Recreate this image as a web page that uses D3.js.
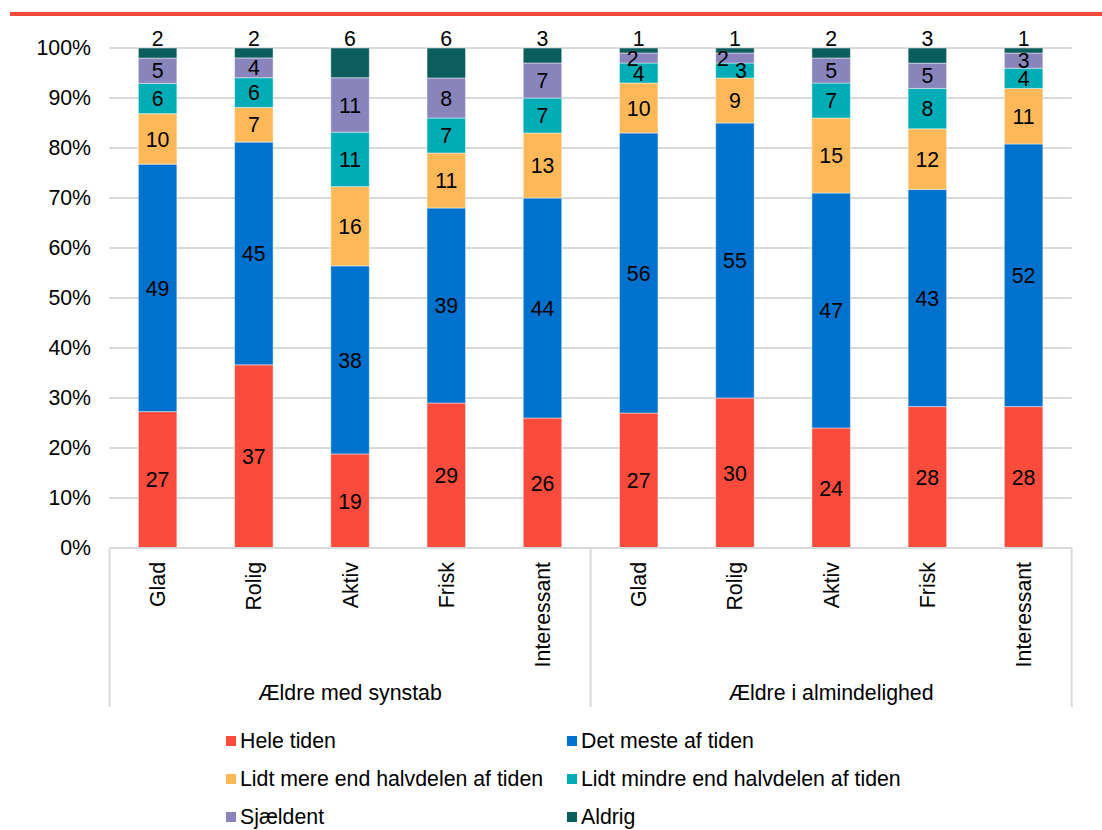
<!DOCTYPE html>
<html>
<head>
<meta charset="utf-8">
<script src="https://cdn.jsdelivr.net/npm/d3@7/dist/d3.min.js"></script>
<style>
  html, body { margin: 0; padding: 0; background: #fff; }
  svg { display: block; font-family: "Liberation Sans", Arial, sans-serif; }
</style>
</head>
<body>
<svg id="chart" width="1102" height="830"></svg>
<script>
// Feelings of older people, % of respondents per answer
const groups = ["Ældre med synstab", "Ældre i almindelighed"];
const categories = ["Glad", "Rolig", "Aktiv", "Frisk", "Interessant"];
const seriesNames = [
  "Hele tiden",
  "Det meste af tiden",
  "Lidt mere end halvdelen af tiden",
  "Lidt mindre end halvdelen af tiden",
  "Sjældent",
  "Aldrig"
];
// one value per bar: group 1 (5 bars) then group 2 (5 bars)
const heleTiden     = [27, 37, 19, 29, 26, 27, 30, 24, 28, 28];
const detMeste      = [49, 45, 38, 39, 44, 56, 55, 47, 43, 52];
const lidtMere      = [10,  7, 16, 11, 13, 10,  9, 15, 12, 11];
const lidtMindre    = [ 6,  6, 11,  7,  7,  4,  3,  7,  8,  4];
const sjaeldent     = [ 5,  4, 11,  8,  7,  2,  2,  5,  5,  3];
const aldrig        = [ 2,  2,  6,  6,  3,  1,  1,  2,  3,  1];
const yTicks = [0, 0.1, 0.2, 0.3, 0.4, 0.5, 0.6, 0.7, 0.8, 0.9, 1.0];

const seriesValues = [heleTiden, detMeste, lidtMere, lidtMindre, sjaeldent, aldrig];
const colors = ["#fa4b3c", "#0072cd", "#feb858", "#00adb6", "#8984bb", "#0c5e5e"];

const svg = d3.select("#chart");
const plotLeft = 109.5, plotRight = 1071.7, plotTop = 48, plotBottom = 548;
const fontSize = 21.3;

// bar keys and rows
const keys = [];
groups.forEach((g, gi) => categories.forEach((c, ci) => keys.push(gi + "|" + c)));
const rows = keys.map((k, i) => {
  const r = { key: k, cat: k.split("|")[1], group: +k.split("|")[0] };
  seriesNames.forEach((s, si) => r[s] = seriesValues[si][i]);
  r.total = d3.sum(seriesNames, s => r[s]);
  return r;
});

// 100% stacked layout
const stack = d3.stack().keys(seriesNames)
  .value((d, key) => d[key] / d.total);
const stacked = stack(rows);

const x = d3.scaleBand().domain(keys).range([plotLeft, plotRight])
  .paddingInner(0.6).paddingOuter(0.3);
const y = d3.scaleLinear().domain([0, 1]).range([plotBottom, plotTop]);

// top accent line
svg.append("rect").attr("x", 10).attr("y", 12).attr("width", 1092).attr("height", 4)
  .attr("fill", "#ef4a3b");

// gridlines
svg.append("g").selectAll("line").data(yTicks.filter(t => t > 0)).join("line")
  .attr("x1", plotLeft).attr("x2", plotRight)
  .attr("y1", d => y(d)).attr("y2", d => y(d))
  .attr("stroke", "#d9d9d9").attr("stroke-width", 2);

// y axis labels
const yAxis = d3.axisLeft(y).tickValues(yTicks).tickFormat(d3.format(".0%")).tickSize(0).tickPadding(0);
const yG = svg.append("g").attr("transform", `translate(91,0)`).call(yAxis);
yG.select(".domain").remove();
yG.selectAll("text").attr("font-size", fontSize).attr("fill", "#000")
  .attr("font-family", "Liberation Sans, Arial, sans-serif");

// bars
const layers = svg.append("g").selectAll("g").data(stacked).join("g")
  .attr("fill", (d, i) => colors[i]);
layers.selectAll("rect").data(d => d).join("rect")
  .attr("x", d => x(d.data.key))
  .attr("width", x.bandwidth())
  .attr("y", d => y(d[1]))
  .attr("height", d => y(d[0]) - y(d[1]))
  .attr("stroke", "#ffffff").attr("stroke-opacity", 0.45).attr("stroke-width", 1);

// value labels; small nudges where neighbouring labels would collide
const nudge = {
  "1|Glad|Sjældent": -6,
  "1|Rolig|Sjældent": -12,
  "1|Rolig|Lidt mindre end halvdelen af tiden": 6
};
const labelG = svg.append("g").attr("font-size", fontSize).attr("fill", "#000")
  .attr("text-anchor", "middle");
stacked.forEach((layer, si) => {
  layer.forEach(d => {
    const name = seriesNames[si];
    const v = d.data[name];
    const cx = x(d.data.key) + x.bandwidth() / 2 + (nudge[d.data.key + "|" + name] || 0);
    const cy = name === "Aldrig" ? y(1) - 10 : y((d[0] + d[1]) / 2);
    labelG.append("text").attr("x", cx).attr("y", cy).attr("dy", "0.36em").text(v);
  });
});

// x axis baseline
svg.append("line").attr("x1", plotLeft).attr("x2", plotRight)
  .attr("y1", plotBottom).attr("y2", plotBottom)
  .attr("stroke", "#d9d9d9").attr("stroke-width", 2);

// group separators
const groupEdges = [plotLeft, (x(keys[4]) + x(keys[5]) + x.bandwidth()) / 2, plotRight];
svg.append("g").selectAll("line").data(groupEdges).join("line")
  .attr("x1", d => d).attr("x2", d => d)
  .attr("y1", plotBottom).attr("y2", 707)
  .attr("stroke", "#d9d9d9").attr("stroke-width", 2);

// category labels (rotated)
svg.append("g").selectAll("text").data(rows).join("text")
  .attr("transform", d => `translate(${x(d.key) + x.bandwidth() / 2},562) rotate(-90)`)
  .attr("text-anchor", "end").attr("dy", "0.35em")
  .attr("font-size", fontSize).attr("fill", "#000")
  .text(d => d.cat);

// group labels
svg.append("g").selectAll("text").data(groups).join("text")
  .attr("x", (d, i) => (groupEdges[i] + groupEdges[i + 1]) / 2)
  .attr("y", 700)
  .attr("text-anchor", "middle").attr("font-size", fontSize).attr("fill", "#000")
  .text(d => d);

// legend, two columns
const legendCols = [226, 567];
const legendRows = [741, 779, 817];
const leg = svg.append("g").selectAll("g").data(seriesNames).join("g")
  .attr("transform", (d, i) => `translate(${legendCols[i % 2]},${legendRows[Math.floor(i / 2)]})`);
leg.append("rect").attr("x", 0).attr("y", -5).attr("width", 10).attr("height", 10)
  .attr("fill", (d, i) => colors[i]);
leg.append("text").attr("x", 14).attr("dy", "0.35em")
  .attr("font-size", fontSize).attr("fill", "#000").text(d => d);
</script>
</body>
</html>
